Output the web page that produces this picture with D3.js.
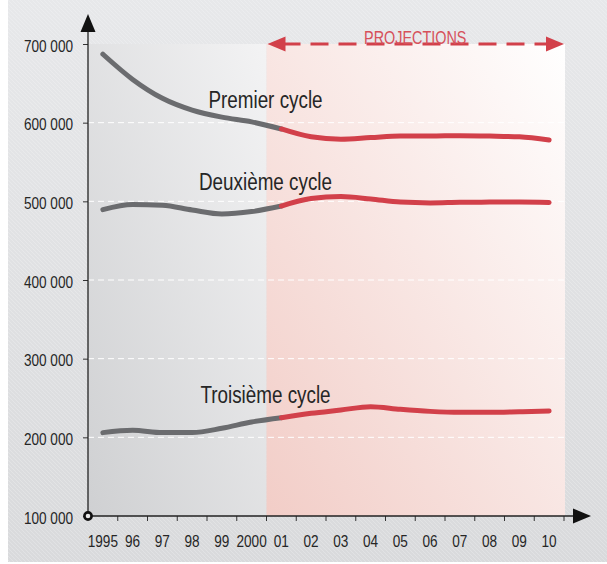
<!DOCTYPE html>
<html>
<head>
<meta charset="utf-8">
<script src="https://cdn.jsdelivr.net/npm/d3@7"></script>
<style>
  html, body { margin: 0; padding: 0; background: #fff; }
  svg { display: block; }
  text { font-family: "Liberation Sans Narrow", "Arial Narrow", "Liberation Sans", sans-serif; }
</style>
</head>
<body>
<div id="chart"></div>
<script>
// data (effectifs par cycle, 1995-2010, projections a partir de 2001)
const years = [1995, 1996, 1997, 1998, 1999, 2000, 2001, 2002, 2003, 2004, 2005, 2006, 2007, 2008, 2009, 2010];
const yearLabels = ["1995", "96", "97", "98", "99", "2000", "01", "02", "03", "04", "05", "06", "07", "08", "09", "10"];
const premier = [687000, 655000, 631000, 616000, 607000, 601000, 592000, 582000, 579000, 581000, 583000, 583000, 583500, 583000, 582000, 578000];
const deuxieme = [489500, 496000, 495000, 489000, 484000, 487000, 494000, 503500, 506000, 503000, 499000, 498000, 498700, 499000, 499000, 498500];
const troisieme = [206000, 209000, 206000, 206000, 211500, 219500, 225000, 230500, 234700, 239000, 235600, 233000, 231800, 231800, 232500, 233400];
const yTicks = [100000, 200000, 300000, 400000, 500000, 600000, 700000];
const firstProjection = 2001;

const W = 607, H = 564;
const margin = { left: 88, right: 43, top: 44, bottom: 48 };
const squeeze = 0.82; // no narrow font installed, so squeeze text horizontally

const svg = d3.select("#chart").append("svg")
  .attr("width", W).attr("height", H);

const defs = svg.append("defs");

const bgGrad = defs.append("linearGradient").attr("id", "bg").attr("x1", 0).attr("y1", 0).attr("x2", 0).attr("y2", 1);
bgGrad.append("stop").attr("offset", "0%").attr("stop-color", "#e7e8ea");
bgGrad.append("stop").attr("offset", "100%").attr("stop-color", "#d9dadc");

const hatch = defs.append("pattern").attr("id", "hatch")
  .attr("patternUnits", "userSpaceOnUse").attr("width", 4).attr("height", 4);
hatch.append("path").attr("d", "M-1,-1L5,5M3,-1L5,1M-1,3L1,5")
  .attr("stroke", "#ffffff").attr("stroke-opacity", 0.22).attr("stroke-width", 1);

const grayGrad = defs.append("linearGradient").attr("id", "grayPanel").attr("x1", 0).attr("y1", 1).attr("x2", 1).attr("y2", 0);
grayGrad.append("stop").attr("offset", "0%").attr("stop-color", "#cfd0d2");
grayGrad.append("stop").attr("offset", "100%").attr("stop-color", "#f3f3f4");

const pinkGrad = defs.append("linearGradient").attr("id", "pinkPanel").attr("x1", 0).attr("y1", 1).attr("x2", 1).attr("y2", 0);
pinkGrad.append("stop").attr("offset", "0%").attr("stop-color", "#f2cdc7");
pinkGrad.append("stop").attr("offset", "100%").attr("stop-color", "#ffffff");

// background
svg.append("rect").attr("x", 8).attr("y", 0).attr("width", W - 8).attr("height", H - 2).attr("fill", "url(#bg)");
svg.append("rect").attr("x", 8).attr("y", 0).attr("width", W - 8).attr("height", H - 2).attr("fill", "url(#hatch)");

const x = d3.scaleBand().domain(years).range([margin.left, W - margin.right]).padding(0);
const y = d3.scaleLinear().domain([100000, 700000]).range([H - margin.bottom, margin.top]);
const bw = x.bandwidth();
const xc = d => x(d) + bw / 2;

const splitX = x(firstProjection);
const right = x.range()[1];

// panels
svg.append("rect").attr("x", margin.left).attr("y", y(700000))
  .attr("width", splitX - margin.left).attr("height", y(100000) - y(700000))
  .attr("fill", "url(#grayPanel)");
svg.append("rect").attr("x", splitX).attr("y", y(700000))
  .attr("width", right - splitX + 1).attr("height", y(100000) - y(700000))
  .attr("fill", "url(#pinkPanel)");

// grid
svg.append("g").selectAll("line")
  .data(yTicks.filter(d => d > 100000 && d < 700000))
  .enter().append("line")
  .attr("x1", margin.left).attr("x2", right + 1)
  .attr("y1", d => y(d)).attr("y2", d => y(d))
  .attr("stroke", "#ffffff").attr("stroke-width", 1).attr("stroke-dasharray", "6,4");

// lines
const line = d3.line()
  .x(d => xc(d.year))
  .y(d => y(d.value))
  .curve(d3.curveMonotoneX);

const series = [premier, deuxieme, troisieme].map(vals => vals.map((v, i) => ({ year: years[i], value: v })));

series.forEach(s => {
  svg.append("path").datum(s.filter(d => d.year <= firstProjection))
    .attr("d", line).attr("fill", "none")
    .attr("stroke", "#6b6c6f").attr("stroke-width", 5).attr("stroke-linecap", "round");
  svg.append("path").datum(s.filter(d => d.year >= firstProjection))
    .attr("d", line).attr("fill", "none")
    .attr("stroke", "#d2404a").attr("stroke-width", 5).attr("stroke-linecap", "round");
});

// series labels
const labels = [
  { text: "Premier cycle", value: 618600 },
  { text: "Deuxième cycle", value: 514000 },
  { text: "Troisième cycle", value: 243300 }
];
svg.append("g").selectAll("text").data(labels).enter().append("text")
  .attr("transform", d => `translate(${splitX - 1},${y(d.value)}) scale(${squeeze},1)`)
  .attr("text-anchor", "middle")
  .attr("font-size", 23).attr("fill", "#262626")
  .text(d => d.text);

// y axis
const fr = d3.formatLocale({ decimal: ",", thousands: " ", grouping: [3], currency: ["", " €"] });
const yAxis = svg.append("g").attr("transform", `translate(${margin.left},0)`)
  .call(d3.axisLeft(y).tickValues(yTicks).tickSize(5).tickPadding(15).tickFormat(fr.format(",")));
yAxis.select(".domain").remove();
yAxis.selectAll(".tick line").attr("stroke", "#333");
yAxis.selectAll(".tick text").attr("font-size", 16).attr("fill", "#262626").attr("dy", "0.45em")
  .attr("x", -15 / 0.85).attr("transform", "scale(0.85,1)");

svg.append("line").attr("x1", margin.left).attr("x2", margin.left)
  .attr("y1", 30).attr("y2", y(100000)).attr("stroke", "#222").attr("stroke-width", 1.3);
svg.append("path")
  .attr("d", `M${margin.left},14L${margin.left + 7.5},32L${margin.left - 7.5},32Z`).attr("fill", "#111");

// x axis
const xAxis = svg.append("g").attr("transform", `translate(0,${y(100000)})`)
  .call(d3.axisBottom(x).tickSize(0).tickPadding(20).tickFormat((d, i) => yearLabels[i]));
xAxis.select(".domain").remove();
xAxis.selectAll(".tick text").attr("font-size", 16).attr("fill", "#262626")
  .attr("transform", "scale(0.85,1)");

svg.append("g").selectAll("line").data(years).enter().append("line")
  .attr("x1", d => x(d) + bw).attr("x2", d => x(d) + bw)
  .attr("y1", y(100000)).attr("y2", y(100000) + 5)
  .attr("stroke", "#333");

svg.append("line").attr("x1", margin.left).attr("x2", 575)
  .attr("y1", y(100000)).attr("y2", y(100000)).attr("stroke", "#222").attr("stroke-width", 1.3);
svg.append("path")
  .attr("d", `M591,${y(100000)}L573,${y(100000) - 7.5}L573,${y(100000) + 7.5}Z`).attr("fill", "#111");

svg.append("circle").attr("cx", margin.left).attr("cy", y(100000)).attr("r", 3.6)
  .attr("fill", "#e8e8e8").attr("stroke", "#111").attr("stroke-width", 2.6);

// projections arrow
const ay = y(700000);
svg.append("line").attr("x1", splitX + 16).attr("x2", right - 18)
  .attr("y1", ay).attr("y2", ay)
  .attr("stroke", "#d2404a").attr("stroke-width", 3.2).attr("stroke-dasharray", "18,10");
svg.append("path").attr("d", `M${splitX + 1},${ay}L${splitX + 19},${ay - 7.5}L${splitX + 19},${ay + 7.5}Z`).attr("fill", "#d2404a");
svg.append("path").attr("d", `M${right},${ay}L${right - 18},${ay - 7.5}L${right - 18},${ay + 7.5}Z`).attr("fill", "#d2404a");
svg.append("text")
  .attr("transform", `translate(${(splitX + right) / 2},${ay}) scale(0.8,1)`)
  .attr("text-anchor", "middle").attr("font-size", 18).attr("fill", "#d6505a")
  .text("PROJECTIONS");
</script>
</body>
</html>
